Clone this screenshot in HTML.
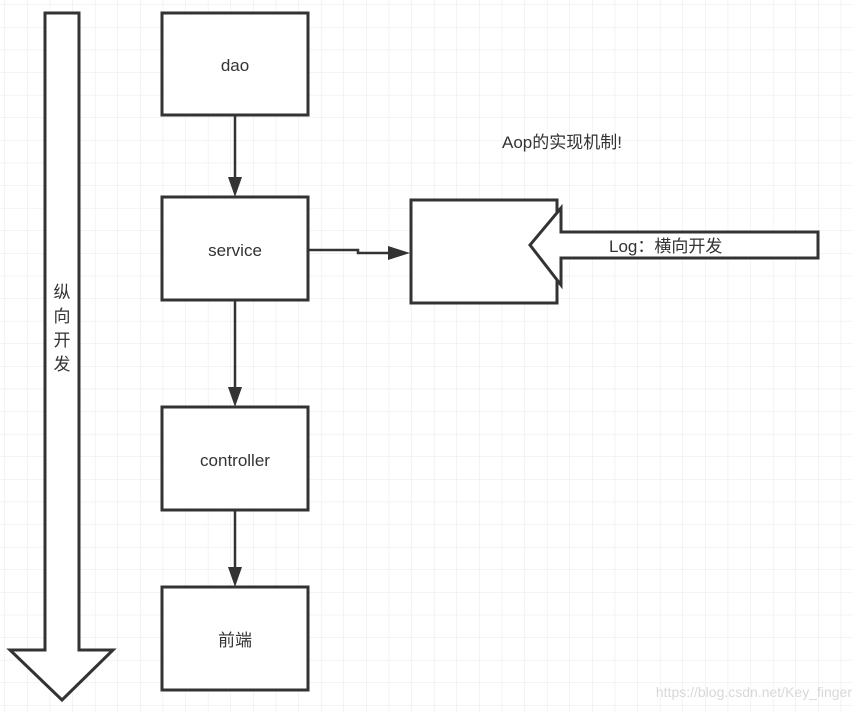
<!DOCTYPE html>
<html><head><meta charset="utf-8"><style>
html,body{margin:0;padding:0;background:#fff;}
svg{display:block;}
text{font-family:"Liberation Sans","Noto Sans CJK SC",sans-serif;fill:#333;}
</style></head><body>
<svg width="863" height="712" viewBox="0 0 863 712" xmlns="http://www.w3.org/2000/svg">
<defs>
<pattern id="g" width="22.6" height="22.6" patternUnits="userSpaceOnUse" x="5" y="5">
<path d="M22.6 0V22.6H0" fill="none" stroke="#e8e8e8" stroke-width="1"/>
</pattern>
<marker id="ah" markerWidth="10" markerHeight="10" refX="9" refY="5" orient="auto" markerUnits="userSpaceOnUse" viewBox="0 0 10 10">
</marker>
</defs>
<rect width="853" height="712" fill="url(#g)"/>
<!-- vertical big arrow -->
<polygon points="45,13 79,13 79,650 113,650 62,700 10,650 45,650" fill="#fff" stroke="#333" stroke-width="3" stroke-linejoin="miter"/>
<text x="62" y="298" font-size="17" text-anchor="middle">纵</text>
<text x="62" y="322" font-size="17" text-anchor="middle">向</text>
<text x="62" y="346" font-size="17" text-anchor="middle">开</text>
<text x="62" y="370" font-size="17" text-anchor="middle">发</text>
<!-- boxes -->
<g fill="#fff" stroke="#333" stroke-width="3">
<rect x="162" y="13" width="146" height="102"/>
<rect x="162" y="197" width="146" height="103"/>
<rect x="162" y="407" width="146" height="103"/>
<rect x="162" y="587" width="146" height="103"/>
<rect x="411" y="200" width="146" height="103"/>
</g>
<text x="235" y="71" font-size="17" text-anchor="middle">dao</text>
<text x="235" y="256" font-size="17" text-anchor="middle">service</text>
<text x="235" y="466" font-size="17" text-anchor="middle">controller</text>
<text x="235" y="646" font-size="17" text-anchor="middle">前端</text>
<!-- connectors -->
<g stroke="#333" stroke-width="2.5" fill="none">
<line x1="235" y1="115" x2="235" y2="180"/>
<line x1="235" y1="300" x2="235" y2="390"/>
<line x1="235" y1="510" x2="235" y2="570"/>
<polyline points="308,250 358,250 358,253 390,253"/>
</g>
<g fill="#333">
<polygon points="228,177 242,177 235,197"/>
<polygon points="228,387 242,387 235,407"/>
<polygon points="228,567 242,567 235,587"/>
<polygon points="388,246 388,260 410,253"/>
</g>
<!-- horizontal big arrow -->
<polygon points="818,232 818,258 561,258 561,285 530,245 561,208 561,232" fill="#fff" stroke="#333" stroke-width="3"/>
<text x="609" y="252" font-size="17">Log：横向开发</text>
<text x="502" y="148" font-size="17">Aop的实现机制!</text>
<text x="852" y="697" font-size="14" text-anchor="end" style="fill:#d8d8d8">https://blog.csdn.net/Key_finger</text>
</svg>
</body></html>
